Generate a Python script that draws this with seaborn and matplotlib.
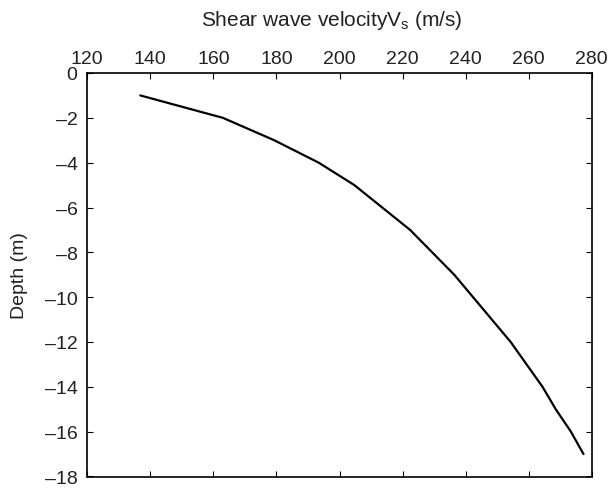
import matplotlib
matplotlib.use("Agg")
import matplotlib.pyplot as plt
import seaborn as sns
import pandas as pd
from matplotlib.ticker import FuncFormatter

sns.set_theme(style="white")
plt.rcParams['font.family'] = ['Liberation Sans', 'DejaVu Sans']

velocity = [136.8, 163.0, 179.3, 193.4, 204.7, 222.4, 236.4, 254.3, 264.4, 268.6, 273.4, 277.4]
depth = [-1, -2, -3, -4, -5, -7, -9, -12, -14, -15, -16, -17]
x_ticks = [120, 140, 160, 180, 200, 220, 240, 260, 280]
y_ticks = [0, -2, -4, -6, -8, -10, -12, -14, -16, -18]

df = pd.DataFrame({"Vs": velocity, "Depth": depth})

fig = plt.figure(figsize=(6.13, 4.89), dpi=100)
ax = fig.add_axes([87.3/613, 1 - 477.5/489, (591.7 - 87.3)/613, (477.5 - 74.0)/489])
sns.lineplot(data=df, x="Vs", y="Depth", sort=False, color="black", linewidth=1.6, ax=ax)

ax.set_xlim(120, 280)
ax.set_ylim(-18, 0)
ax.set_xticks(x_ticks)
ax.set_yticks(y_ticks)
fmt = FuncFormatter(lambda v, p: f"{int(v)}".replace("-", "\u2013"))
ax.xaxis.set_major_formatter(fmt)
ax.yaxis.set_major_formatter(fmt)
ax.xaxis.tick_top()
ax.xaxis.set_label_position("top")
ax.tick_params(axis="both", which="both", direction="in", length=4, width=0.8, color="black",
               labelsize=14, labelcolor="#222222", top=True, bottom=True, left=True, right=True,
               labeltop=True, labelbottom=False)
ax.tick_params(axis="x", pad=4)
ax.tick_params(axis="y", pad=7)
ax.set_xlabel(r"Shear wave velocity$\mathregular{V_s}$ (m/s)", fontsize=15, color="#222222", labelpad=18)
ax.xaxis.label.set_x(0.485)
ax.set_ylabel("Depth (m)", fontsize=14, color="#222222", labelpad=12)
for s in ax.spines.values():
    s.set_visible(True)
    s.set_color("black")
    s.set_linewidth(1.2)

fig.savefig("out.png", dpi=100)
